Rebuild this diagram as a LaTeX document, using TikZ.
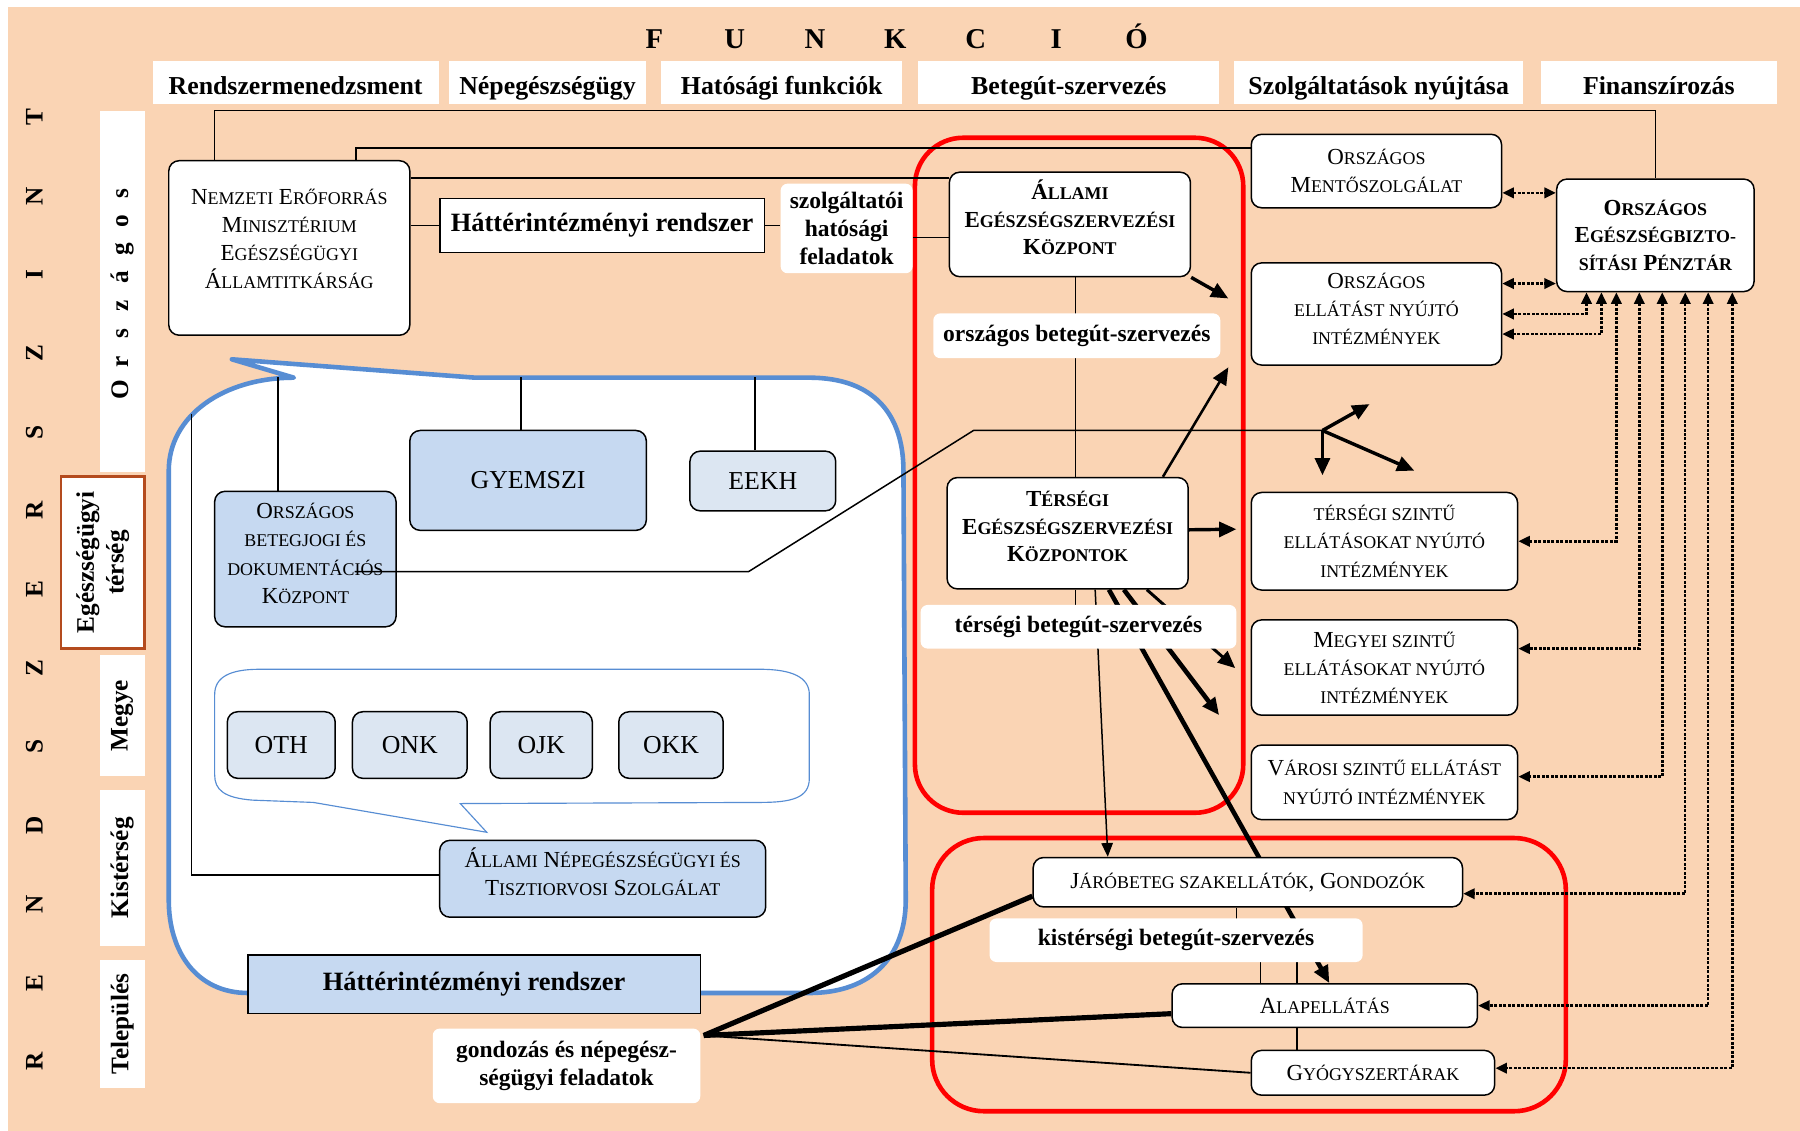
\documentclass[tikz,border=0pt]{standalone}
\usepackage{fontspec}
\setmainfont{Liberation Serif}
\usetikzlibrary{arrows.meta}
\pgfdeclarelayer{l0}
\pgfdeclarelayer{l1}
\pgfdeclarelayer{l2}
\pgfsetlayers{l0,l1,l2,main}
\definecolor{peach}{RGB}{250,212,180}
\definecolor{blu1}{RGB}{198,217,241}
\definecolor{blu2}{RGB}{220,230,242}
\definecolor{bluline}{RGB}{87,141,211}
\definecolor{brn}{RGB}{180,75,30}
\newcommand\sm[1]{{\addfontfeatures{Scale=0.78}#1}}
\newcommand\bx[7]{\node[#1,minimum width={(#4)-(#2)},minimum height={(#5)-(#3)}] (#6) at ({((#2)+(#4))/2},{((#3)+(#5))/2}) {#7};}
\begin{document}
\begin{tikzpicture}[x=1pt,y=-1pt,
  box/.style={draw, fill=white, rounded corners=9pt, line width=1.3pt, inner sep=0pt, align=center, font=\fontsize{20}{24.5}\selectfont},
  bbox/.style={box, font=\fontsize{20}{24}\selectfont\bfseries},
  lbox/.style={box, fill=blu1},
  lbox2/.style={box, fill=blu2, font=\fontsize{22.5}{26}\selectfont},
  lbl/.style={fill=white, rounded corners=6pt, inner sep=0pt, align=center, font=\fontsize{20.5}{24}\selectfont\bfseries},
  hdr/.style={fill=white, inner sep=0pt, text height=20pt, text depth=0pt, font=\fontsize{22.5}{26}\selectfont\bfseries},
  colbox/.style={fill=white, inner sep=0pt, rotate=90, align=center, font=\fontsize{22}{26}\selectfont\bfseries},
  ln/.style={line width=1.3pt},
  tip/.style={-{Triangle[length=12pt,width=10pt]}},
  big/.style={-{Triangle[length=15pt,width=13pt]}},
  dot/.style={line width=2.2pt, dash pattern=on 2.6pt off 1.3pt, {Triangle[length=10pt,width=9pt]}-{Triangle[length=10pt,width=9pt]}}
]
\useasboundingbox (0,0) rectangle (1568,985);
\begin{pgfonlayer}{l0}
\fill[white] (0,0) rectangle (1568,985);
\fill[peach] (7,6) rectangle (1568,985);
\end{pgfonlayer}

% title and headers
\node[inner sep=0pt, font=\fontsize{25}{30}\selectfont\bfseries] (title) at (780,32)
 {\makebox[70pt]{F}\makebox[70pt]{U}\makebox[70pt]{N}\makebox[70pt]{K}\makebox[70pt]{C}\makebox[70pt]{I}\makebox[70pt]{Ó}};
\bx{hdr}{133}{53}{382}{91}{h1}{Rendszermenedzsment}
\bx{hdr}{391}{53}{563}{91}{h2}{Népegészségügy}
\bx{hdr}{576}{53}{786}{91}{h3}{Hatósági funkciók}
\bx{hdr}{800}{53}{1062}{91}{h4}{Betegút-szervezés}
\bx{hdr}{1075}{53}{1327}{91}{h5}{Szolgáltatások nyújtása}
\bx{hdr}{1342}{53}{1548}{91}{h6}{Finanszírozás}

% left column
\node[rotate=90, inner sep=0pt, font=\fontsize{22}{26}\selectfont\bfseries] (rsz) at (30,513.5)
 {\makebox[68.58pt]{R}\makebox[68.58pt]{E}\makebox[68.58pt]{N}\makebox[68.58pt]{D}\makebox[68.58pt]{S}\makebox[68.58pt]{Z}\makebox[68.58pt]{E}\makebox[68.58pt]{R}\makebox[68.58pt]{S}\makebox[68.58pt]{Z}\makebox[68.58pt]{I}\makebox[68.58pt]{N}\makebox[68.58pt]{T}};
\node[colbox, minimum width=314pt, minimum height=39pt] (c1) at (106.5,254)
 {\makebox[24.5pt]{O}\makebox[24.5pt]{r}\makebox[24.5pt]{s}\makebox[24.5pt]{z}\makebox[24.5pt]{á}\makebox[24.5pt]{g}\makebox[24.5pt]{o}\makebox[24.5pt]{s}};
\node[colbox, draw=brn, line width=2pt, minimum width=150pt, minimum height=73pt] (c2) at (89.5,490) {Egészségügyi\\térség};
\node[colbox, minimum width=105pt, minimum height=39pt] (c3) at (106.5,623.5) {Megye};
\node[colbox, minimum width=136pt, minimum height=39pt] (c4) at (106.5,756) {Kistérség};
\node[colbox, minimum width=112pt, minimum height=39pt] (c5) at (106.5,892) {Település};

% red frames, blue bubble
\begin{pgfonlayer}{l1}
\draw[red, line width=4pt, rounded corners=42pt] (797,120) rectangle (1083,708);
\draw[red, line width=4pt, rounded corners=45pt] (812,730) rectangle (1364,968);
\draw[bluline, line width=4pt, fill=white, line join=round]
  (202,313) -- (414,329) -- (705,329) .. controls (762,329) and (787,362) .. (787,410)
  -- (789,784) .. controls (789,832) and (760,865) .. (705,865) -- (216,865)
  .. controls (172,865) and (147,830) .. (147,784) -- (147,410)
  .. controls (147,362) and (195,329) .. (256,329) -- cycle;
\draw[bluline, line width=1pt, fill=white]
  (226,583) -- (662,583) .. controls (690,583) and (705,590) .. (705,605) -- (705,678)
  .. controls (705,695) and (690,699) .. (662,699) -- (401,700) -- (424,725) -- (273,699)
  -- (220,697) .. controls (195,695) and (187,688) .. (187,675) -- (187,605)
  .. controls (187,590) and (200,583) .. (226,583) -- cycle;
\end{pgfonlayer}

% nodes
\bx{box}{147}{140}{357}{292}{nem}{}
\node[inner sep=0pt, align=center, font=\fontsize{20}{24.5}\selectfont] (nemt) at (252,208)
 {N\sm{EMZETI} E\sm{RŐFORRÁS}\\ M\sm{INISZTÉRIUM}\\ E\sm{GÉSZSÉGÜGYI}\\ Á\sm{LLAMTITKÁRSÁG}};
\bx{draw, fill=white, line width=1.5pt, inner sep=0pt, font=\fontsize{23}{26}\selectfont\bfseries}{383}{173}{666}{220}{hat1}{Háttérintézményi rendszer}
\bx{lbl, font=\fontsize{20.5}{24}\selectfont\bfseries}{680}{160}{795}{238}{szolg}{szolgáltatói\\ hatósági\\ feladatok}
\bx{bbox, text depth=12pt}{827}{150}{1037}{241}{aeek}{Á\sm{LLAMI}\\ E\sm{GÉSZSÉGSZERVEZÉSI}\\ K\sm{ÖZPONT}}
\bx{lbl}{813}{273}{1063}{312}{orsz}{országos betegút-szervezés}
\bx{box}{1090}{117}{1308}{181}{mento}{O\sm{RSZÁGOS}\\ M\sm{ENTŐSZOLGÁLAT}}
\bx{box, text depth=9pt}{1090}{229}{1308}{318}{ell}{O\sm{RSZÁGOS}\\ \sm{ELLÁTÁST NYÚJTÓ}\\ \sm{INTÉZMÉNYEK}}
\bx{bbox}{1356}{156}{1528}{254}{oep}{O\sm{RSZÁGOS}\\ E\sm{GÉSZSÉGBIZTO-}\\ \sm{SÍTÁSI} P\sm{ÉNZTÁR}}
\bx{bbox, text depth=12pt}{825}{416}{1035}{513}{teek}{T\sm{ÉRSÉGI}\\ E\sm{GÉSZSÉGSZERVEZÉSI}\\ K\sm{ÖZPONTOK}}
\bx{lbl}{802}{527}{1077}{565}{ter}{térségi betegút-szervezés}
\bx{box}{1090}{429}{1322}{514}{tsz}{\sm{TÉRSÉGI SZINTŰ}\\ \sm{ELLÁTÁSOKAT NYÚJTÓ}\\ \sm{INTÉZMÉNYEK}}
\bx{box}{1090}{540}{1322}{623}{megy}{M\sm{EGYEI SZINTŰ}\\ \sm{ELLÁTÁSOKAT NYÚJTÓ}\\ \sm{INTÉZMÉNYEK}}
\bx{box}{1090}{649}{1322}{714}{varos}{V\sm{ÁROSI SZINTŰ ELLÁTÁST}\\ \sm{NYÚJTÓ INTÉZMÉNYEK}}
\bx{box}{900}{747}{1274}{790}{jaro}{J\sm{ÁRÓBETEG SZAKELLÁTÓK}, G\sm{ONDOZÓK}}
\bx{lbl}{862}{800}{1187}{838}{kist}{kistérségi betegút-szervezés}
\bx{box}{1021}{857}{1287}{895}{alap}{A\sm{LAPELLÁTÁS}}
\bx{box}{1090}{915}{1302}{954}{gyogy}{G\sm{YÓGYSZERTÁRAK}}
\bx{lbl}{377}{896}{610}{961}{gond}{gondozás és népegész-\\ ségügyi feladatok}

\bx{lbox, text depth=10pt}{187}{428}{345}{546}{bj}{O\sm{RSZÁGOS}\\ \sm{BETEGJOGI ÉS}\\ \sm{DOKUMENTÁCIÓS}\\ K\sm{ÖZPONT}}
\bx{lbox, font=\fontsize{22.5}{26}\selectfont}{357}{375}{563}{462}{gy}{GYEMSZI}
\bx{lbox2}{601}{393}{728}{445}{eekh}{EEKH}
\bx{lbox2}{198}{620}{292}{678}{oth}{OTH}
\bx{lbox2}{307}{620}{407}{678}{onk}{ONK}
\bx{lbox2}{427}{620}{516}{678}{ojk}{OJK}
\bx{lbox2}{539}{620}{630}{678}{okk}{OKK}
\bx{lbox, text depth=12pt}{383}{732}{667}{799}{antsz}{Á\sm{LLAMI} N\sm{ÉPEGÉSZSÉGÜGYI ÉS}\\ T\sm{ISZTIORVOSI} S\sm{ZOLGÁLAT}}
\bx{draw, fill=blu1, line width=1.3pt, inner sep=0pt, font=\fontsize{23}{26}\selectfont\bfseries}{216}{832}{610}{883}{hat2}{Háttérintézményi rendszer}

% free ends
\coordinate (ae1) at (1070,260);
\coordinate (te1) at (1070,320);
\coordinate (te2) at (1077,461);
\coordinate (tb1) at (1062,623);
\coordinate (tb2) at (1076,582);
\coordinate (bjx) at (309,498);
\coordinate (fk) at (1152,375);
\coordinate (fa) at (1193,352);
\coordinate (fb) at (1152,414);
\coordinate (fc) at (1232,410);
\coordinate (gp) at (613,902);
\coordinate (lv) at (167,361);

\begin{pgfonlayer}{l2}
% top lines
\draw[ln] ([xshift=-65pt]nem.north) -- ++(0,-43) -| (oep.north);
\draw[ln] ([xshift=58pt]nem.north) |- ([yshift=20pt]mento.west);
\draw[ln] ([yshift=61pt]nem.east) -- ([yshift=61pt]nem.east -| aeek.west);
\draw[ln] (hat1.west -| nem.east) -- (hat1.west);
\draw[ln] (hat1.east) -- (hat1.east -| szolg.west);
\draw[ln] ([yshift=-8pt]szolg.east) -- ([yshift=-8pt]szolg.east -| aeek.west);
\draw[ln] ([xshift=5pt]aeek.south) -- ([xshift=5pt]aeek.south |- teek.north);
% ÁEEK / TEEK arrows
\draw[line width=3pt, big] (aeek.south east) -- (ae1);
\draw[line width=2.2pt, big] ([xshift=83pt]teek.north) -- (te1);
\draw[line width=3pt, big] ([yshift=3pt]teek.east) -- (te2);
\draw[ln] ([xshift=7pt]teek.south) -- ([xshift=7pt]teek.south |- ter.center);
\draw[ln, tip] ([xshift=24pt]teek.south) -- ([xshift=-122pt]jaro.north);
\draw[line width=4pt, big] ([xshift=36pt]teek.south) -- ([xshift=4pt]alap.north);
\draw[line width=4pt, big] ([xshift=49pt]teek.south) -- (tb1);
\draw[line width=2.6pt, big] ([xshift=69pt]teek.south) -- (tb2);
% kistérség
\draw[ln] ([xshift=-10pt]jaro.south) -- ([xshift=-10pt]jaro.south |- kist.center);
\draw[ln] ([xshift=73.5pt]kist.south) -- ([xshift=73.5pt]kist.south |- alap.north);
\draw[ln] ([xshift=105.5pt]kist.south) -- ([xshift=105.5pt]kist.south |- alap.north);
\draw[ln] ([xshift=-24pt]alap.south) -- ([xshift=-24pt]alap.south |- gyogy.north);
% gondozás
\draw[line width=4.5pt] (gp) -- ([yshift=10pt]jaro.south west);
\draw[line width=4.5pt] (gp) -- ([yshift=-7pt]alap.west);
\draw[line width=1.6pt] (gp) -- (gyogy.west);
% bubble inner lines
\draw[ln] (lv) |- ([yshift=3.5pt]antsz.west);
\draw[ln] ([xshift=-24pt]bj.north) -- ++(0,-99);
\draw[ln] ([xshift=-6pt]gy.north) -- ++(0,-46);
\draw[ln] ([xshift=-7pt]eekh.north) -- ++(0,-64);
% financing dotted arrows
\draw[dot] ([yshift=-19pt]mento.east) -- ([yshift=-19pt]mento.east -| oep.west);
\draw[dot] ([yshift=26.5pt]ell.east) -- ([yshift=26.5pt]ell.east -| oep.west);
\draw[dot] ([xshift=-60pt]oep.south) |- (ell.east);
\draw[dot] ([xshift=-47pt]oep.south) |- ([yshift=-17.5pt]ell.east);
\draw[dot] ([xshift=-34pt]oep.south) |- (tsz.east);
\draw[dot] ([xshift=-14pt]oep.south) |- ([yshift=16.5pt]megy.east);
\draw[dot] ([xshift=6pt]oep.south) |- ([yshift=5pt]varos.east);
\draw[dot] ([xshift=26pt]oep.south) |- ([yshift=-10pt]jaro.east);
\draw[dot] ([xshift=46pt]oep.south) |- (alap.east);
\draw[dot] ([xshift=67pt]oep.south) |- ([yshift=4pt]gyogy.east);
\end{pgfonlayer}

% line from the betegjogi centre to the fork (drawn over the box)
\draw[ln] (bjx) -- (652,498) -- (848,375) -- (fk);
\draw[line width=3pt, big] (fk) -- (fa);
\draw[line width=3pt, big] (fk) -- (fb);
\draw[line width=3pt, big] (fk) -- (fc);
\end{tikzpicture}
\end{document}
